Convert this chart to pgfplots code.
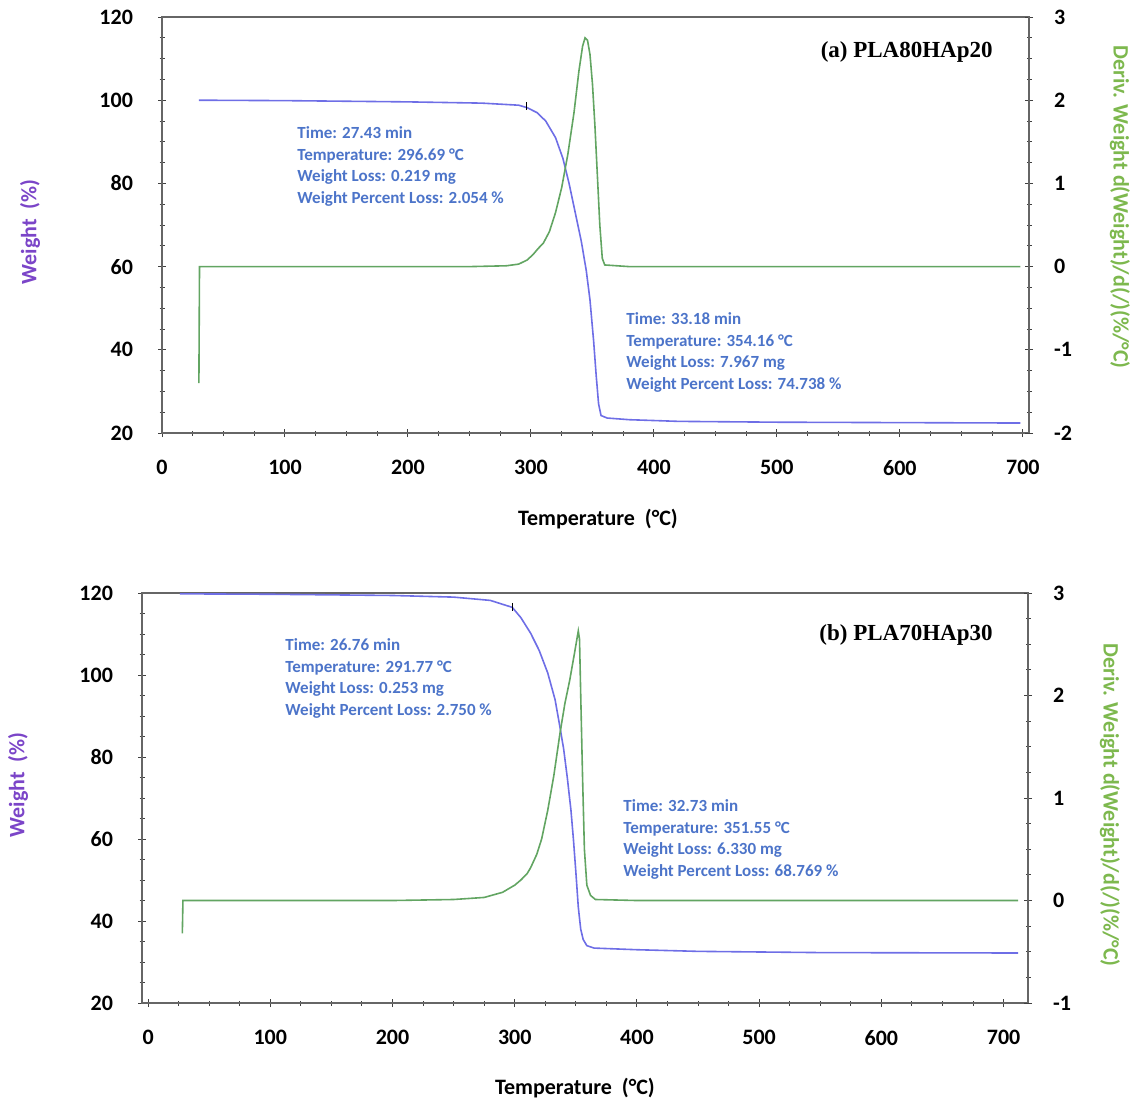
\documentclass[border=0pt]{standalone}
\usepackage{fontspec}
\setmainfont{Carlito}
\newfontfamily\timesf{Liberation Serif}
\usepackage{pgfplots}
\pgfplotsset{compat=1.18}
\definecolor{tgablue}{HTML}{6E6EE6}
\definecolor{dtggreen}{HTML}{62A562}
\definecolor{annot}{HTML}{4C74C9}
\definecolor{wlab}{HTML}{7B45C8}
\definecolor{dlab}{HTML}{7DB84E}
\definecolor{axc}{HTML}{666666}

% weight (%) vs temperature, PLA80HAp20
\pgfplotstableread{
T w
30 100.0
100 99.9
200 99.6
260 99.3
290 98.8
297 98.2
305 97
312 95
320 91
326 86
331 80
336 73
341 66
345 59
348 52
351 42
353 34
355 27
357 24.2
362 23.6
380 23.2
420 22.8
500 22.6
600 22.5
698 22.4
}\tgaA
\pgfplotstableread{
T d
30 -1.40
30.5 0.0
100 0.0
200 0.0
250 0.0
280 0.01
290 0.03
297 0.08
302 0.15
306 0.22
310 0.28
315 0.42
320 0.65
325 0.95
330 1.35
335 1.85
339 2.35
342 2.65
344 2.75
346 2.72
348 2.55
350 2.2
352 1.7
354 1.1
356 0.5
358 0.1
360 0.02
380 0.0
698 0.0
}\dtgA
% PLA70HAp30
\pgfplotstableread{
T w
26 119.8
100 119.7
200 119.4
250 119.0
280 118.2
298 116.5
305 114
313 110.2
320 106
327 100.5
333 94
337 87.3
340 82
343 75
346 67
348 60
350 52
352 43.4
354 38
356 35.5
359 34
365 33.4
400 33
450 32.6
550 32.3
712 32.2
}\tgaB
\pgfplotstableread{
T d
28 -0.32
28.5 0.0
100 0.0
200 0.0
250 0.01
275 0.03
290 0.08
300 0.15
305 0.2
310 0.26
313 0.32
318 0.45
322 0.6
327 0.88
332 1.22
337 1.63
341 1.92
345 2.15
349 2.42
352 2.63
353 2.55
354 2.0
355.5 1.2
357 0.5
359 0.15
362 0.05
366 0.01
400 0.0
712 0.0
}\dtgB

\pgfplotsset{
  tga/.style={
    scale only axis,
    axis line style={axc, line width=0.8pt},
    tick style={black!75, line width=0.5pt},
    major tick length=4pt, minor tick length=2.5pt,
    tick align=center,
    ticklabel style={font=\bfseries\fontsize{11}{13}\selectfont},
    /pgf/number format/assume math mode=true,
    xticklabel style={yshift=-8pt},
  },
  leftax/.style={tga, xtick pos=bottom, ytick pos=left,
    xtick={0,100,...,700}, minor x tick num=3,
    ytick={20,40,...,120}, minor y tick num=3,
    yticklabel style={xshift=-9pt}},
  rightax/.style={tga, axis x line=none, axis y line*=right,
    ytick pos=right, minor y tick num=3,
    yticklabel style={xshift=7pt}},
}

\begin{document}
\begin{tikzpicture}
\path[use as bounding box] (0,0) rectangle (566.5pt,-549.5pt);

% ---- panel (a)
\begin{axis}[leftax, at={(81pt,-216.5pt)}, anchor=south west,
  width=433.5pt, height=208pt, xmin=0, xmax=705, ymin=20, ymax=120]
\addplot[tgablue, line width=0.8pt] table[x=T,y=w] {\tgaA};
\addplot[only marks, mark=|, mark size=2pt, black] coordinates {(296.7,98.6)};
\end{axis}
\begin{axis}[rightax, at={(81pt,-216.5pt)}, anchor=south west,
  width=433.5pt, height=208pt, xmin=0, xmax=705, ymin=-2, ymax=3,
  ytick={-2,-1,...,3}]
\addplot[dtggreen, line width=0.8pt] table[x=T,y=d] {\dtgA};
\end{axis}

% ---- panel (b)
\begin{axis}[leftax, at={(71pt,-501.5pt)}, anchor=south west,
  width=443pt, height=205pt, xmin=-5, xmax=720, ymin=20, ymax=120]
\addplot[tgablue, line width=0.8pt] table[x=T,y=w] {\tgaB};
\addplot[only marks, mark=|, mark size=2pt, black] coordinates {(298,116.6)};
\end{axis}
\begin{axis}[rightax, at={(71pt,-501.5pt)}, anchor=south west,
  width=443pt, height=205pt, xmin=-5, xmax=720, ymin=-1, ymax=3,
  ytick={-1,0,...,3}]
\addplot[dtggreen, line width=0.8pt] table[x=T,y=d] {\dtgB};
\end{axis}

\begin{scope}[x=0.5pt, y=-0.5pt]
\tikzset{ann/.style={anchor=base west, inner sep=0pt, text=annot,
  font=\bfseries\fontsize{8.5}{10}\selectfont}}
% annotations (a)
\node[ann] at (297,138) {Time: 27.43 min};
\node[ann] at (297,160) {Temperature: 296.69 °C};
\node[ann] at (297,181) {Weight Loss: 0.219 mg};
\node[ann] at (297,203) {Weight Percent Loss: 2.054 \%};
\node[ann] at (626,324) {Time: 33.18 min};
\node[ann] at (626,346) {Temperature: 354.16 °C};
\node[ann] at (626,367) {Weight Loss: 7.967 mg};
\node[ann] at (626,389) {Weight Percent Loss: 74.738 \%};
% annotations (b)
\node[ann] at (285,650) {Time: 26.76 min};
\node[ann] at (285,672) {Temperature: 291.77 °C};
\node[ann] at (285,693) {Weight Loss: 0.253 mg};
\node[ann] at (285,715) {Weight Percent Loss: 2.750 \%};
\node[ann] at (623,811) {Time: 32.73 min};
\node[ann] at (623,833) {Temperature: 351.55 °C};
\node[ann] at (623,854) {Weight Loss: 6.330 mg};
\node[ann] at (623,876) {Weight Percent Loss: 68.769 \%};
% panel titles
\node[anchor=base east, inner sep=0pt, font=\timesf\bfseries\fontsize{11.5}{13}\selectfont] at (993,57) {(a) PLA80HAp20};
\node[anchor=base east, inner sep=0pt, font=\timesf\bfseries\fontsize{11.5}{13}\selectfont] at (993,640) {(b) PLA70HAp30};
% axis titles
\tikzset{lab/.style={inner sep=0pt, font=\bfseries\fontsize{11}{13}\selectfont}}
\node[lab, text=wlab, rotate=90] at (30,232) {Weight\ \ (\%)};
\node[lab, text=wlab, rotate=90] at (18,785) {Weight\ \ (\%)};
\node[lab, text=dlab, rotate=-90] at (1120,207) {Deriv. Weight d(Weight)/d(/)(\%/°C)};
\node[lab, text=dlab, rotate=-90] at (1110,805) {Deriv. Weight d(Weight)/d(/)(\%/°C)};
\node[lab] at (598,519) {Temperature\ \ (°C)};
\node[lab] at (575,1088) {Temperature\ \ (°C)};
\end{scope}
\end{tikzpicture}
\end{document}
